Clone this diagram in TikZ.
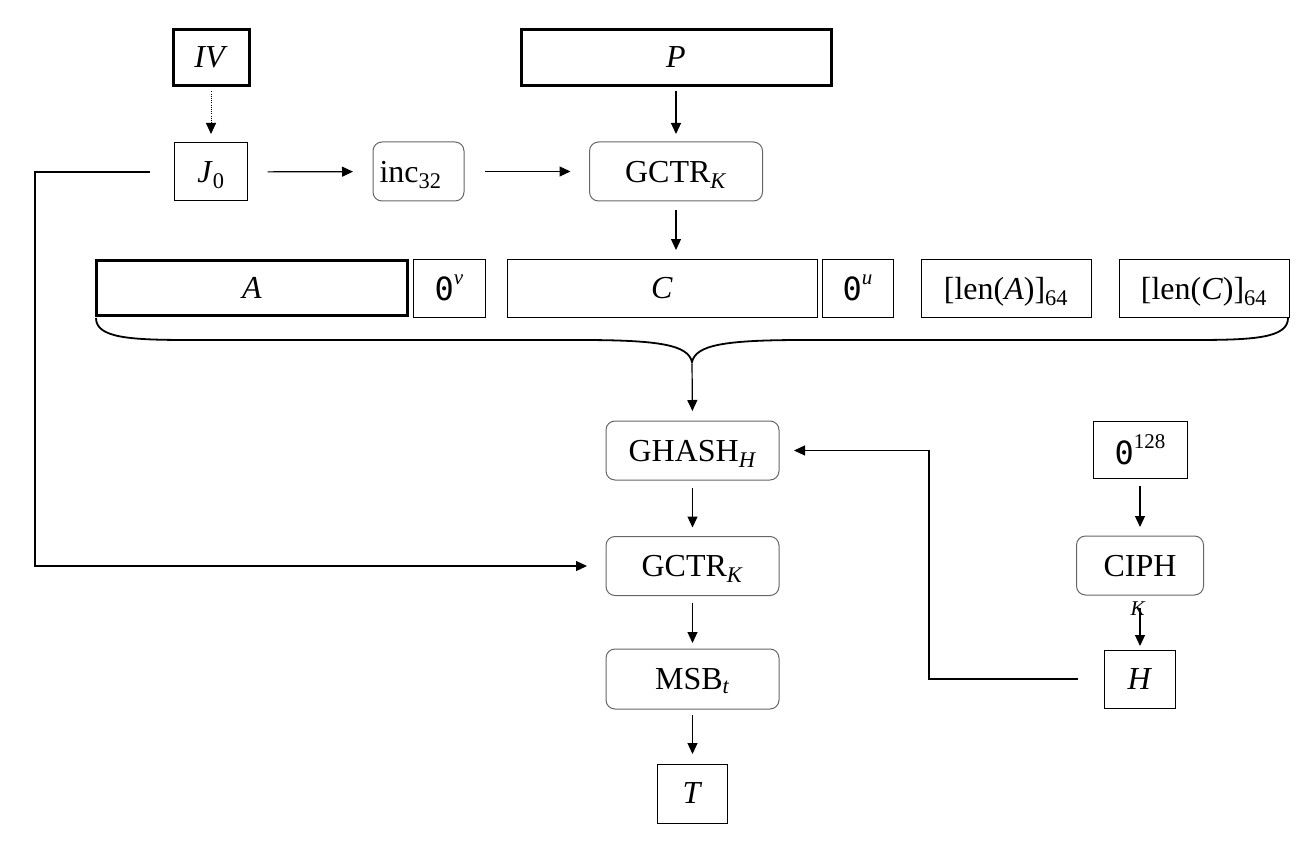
\documentclass[tikz,border=0pt]{standalone}
\usepackage{fontspec}
\setmainfont{Liberation Serif}
\setmonofont{DejaVu Sans Mono}
\usetikzlibrary{arrows.meta}
\newcommand{\supr}[1]{\raisebox{0.5em}{\fontsize{21}{24}\selectfont #1}}
\begin{document}
\begin{tikzpicture}[x=1pt,y=-1pt]
\tikzset{
 base/.style={inner sep=0pt, outer sep=0pt, font=\fontsize{32}{38}\selectfont, align=center, text depth=0pt},
 thinbox/.style={base, draw, line width=1pt},
 thickbox/.style={base, draw, line width=3pt},
 rbox/.style={base, draw=black!60, line width=1pt, rounded corners=9pt},
 arr/.style={line width=1.2pt, -{Triangle[length=11pt,width=10pt]}},
 dotarr/.style={arr, line width=0.8pt, dash pattern=on 1pt off 1.2pt},
 sublabel/.style={inner sep=0pt, font=\fontsize{21}{24}\selectfont},
}
\useasboundingbox (0,0) rectangle (1306,845);
% top row
\node[thickbox, minimum width=76pt, minimum height=56pt] (iv) at (211,57.5) {\textit{IV}};
\node[thickbox, minimum width=310pt, minimum height=56pt] (p) at (676,57.5) {\textit{P}};
\node[thinbox, minimum width=73pt, minimum height=58pt] (j0) at (211,172) {\textit{J}\textsubscript{0}};
\node[rbox, minimum width=91pt, minimum height=59pt] (inc) at (418.5,171.5) {\hspace*{-16pt}inc\textsubscript{32}};
\node[rbox, minimum width=173pt, minimum height=59pt] (gctra) at (676,171.5) {GCTR\textsubscript{\textit{K}}};
% data row
\node[thickbox, minimum width=311pt, minimum height=55pt] (a) at (252,288) {\textit{A}};
\node[thinbox, minimum width=72pt, minimum height=58pt] (zv) at (449,288) {\texttt{0}\supr{\textit{v}}};
\node[thinbox, minimum width=310pt, minimum height=58pt] (c) at (662,288) {\textit{C}};
\node[thinbox, minimum width=71pt, minimum height=58pt] (zu) at (857.5,288) {\texttt{0}\supr{\textit{u}}};
\node[thinbox, minimum width=170pt, minimum height=58pt] (lena) at (1006,288) {[len(\textit{A})]\textsubscript{64}};
\node[thinbox, minimum width=170pt, minimum height=58pt] (lenc) at (1204,288) {[len(\textit{C})]\textsubscript{64}};
% lower column
\node[rbox, minimum width=173pt, minimum height=59pt] (ghash) at (692.5,450.5) {GHASH\textsubscript{\textit{H}}};
\node[rbox, minimum width=173pt, minimum height=59pt] (gctrb) at (692.5,566) {GCTR\textsubscript{\textit{K}}};
\node[rbox, minimum width=173pt, minimum height=60pt] (msb) at (692.5,679) {MSB\textsubscript{\textit{t}}};
\node[thinbox, minimum width=70pt, minimum height=59pt] (t) at (692.5,793.5) {\textit{T}};
% right column
\node[thinbox, minimum width=94pt, minimum height=57pt] (z128) at (1140,449.5) {\texttt{0}\supr{128}};
\node[rbox, minimum width=127pt, minimum height=59pt] (ciph) at (1140,565.5) {CIPH};
\node[sublabel] (klab) at (1138,609) {\textit{K}};
\node[thinbox, minimum width=71pt, minimum height=58pt] (h) at (1140,679) {\textit{H}};
% brace
\draw[line width=1.8pt] (96,318) .. controls (96,338) and (130,340) .. (190,340) -- (580,340)
  .. controls (660,340) and (688,345) .. (692,362)
  .. controls (696,345) and (724,340) .. (804,340) -- (1194,340)
  .. controls (1254,340) and (1288,338) .. (1288,318);
\coordinate (bt) at (692,362);
\coordinate (lc) at (35,172);
\coordinate (hc) at (929,679);
% connectors
\draw[dotarr, shorten <=6pt, shorten >=9pt] (iv) -- (j0);
\draw[arr, shorten <=6pt, shorten >=8pt] (p) -- (gctra);
\draw[arr, shorten <=20pt, shorten >=20pt] (j0) -- (inc);
\draw[arr, shorten <=21pt, shorten >=19pt] (inc) -- (gctra);
\draw[arr, shorten <=9pt, shorten >=9pt] (gctra.south) -- (gctra.south |- c.north);
\draw[arr, shorten <=2pt, shorten >=10pt] (bt) -- (ghash.north);
\draw[arr, shorten <=8pt, shorten >=9pt] (ghash) -- (gctrb);
\draw[arr, shorten <=7pt, shorten >=6pt] (gctrb) -- (msb);
\draw[arr, shorten <=6pt, shorten >=10pt] (msb) -- (t);
\draw[arr, shorten <=8pt, shorten >=9pt] (z128) -- (ciph);
\draw[arr, shorten <=13pt, shorten >=4pt] (ciph) -- (h);
\draw[arr, shorten <=27pt, shorten >=15pt] (h.west) -- (hc) |- (ghash.east);
\draw[arr, shorten <=25pt, shorten >=19pt] (j0.west) -- (lc) |- (gctrb.west);
\end{tikzpicture}
\end{document}
